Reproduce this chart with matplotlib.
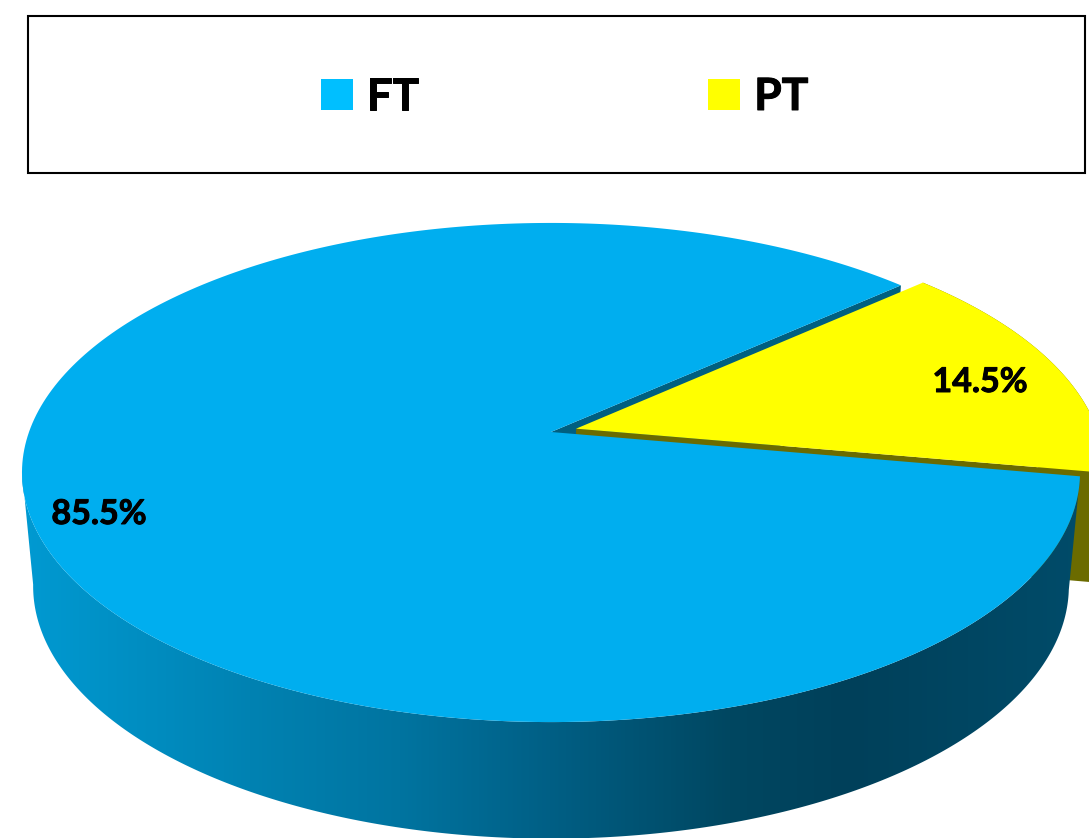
import numpy as np
import matplotlib
matplotlib.use("Agg")
import matplotlib.pyplot as plt
import matplotlib.patheffects as pe
from matplotlib.colors import LinearSegmentedColormap
from matplotlib.patches import Patch, Polygon, Rectangle

labels = ["FT", "PT"]
shares = [85.5, 14.5]
share_text = ["85.5%", "14.5%"]

plt.rcParams["font.family"] = ["Lato", "DejaVu Sans"]

# pie geometry, in image pixels
start_angle = 42.0
explode = 0.05
persp = 0.1623
top_disc = (551, 432, 522, 243)
bottom_disc = (551, 545, 511, 246)
pt_bottom_disc = (551, 541, 511, 246)

# side wall shading, left to right
wall_x = [20, 250, 400, 550, 730, 850, 1089]
wall_colors = ["#009AD2", "#0082B2", "#0074A0", "#005F85", "#004761", "#00405A", "#004C6A"]


def project(theta, r, disc, shift=0.0, shift_angle=0.0):
    # unit circle seen in perspective, far side shrinks
    cx, cy, a, b = disc
    t = np.radians(theta)
    x = r * np.cos(t) + shift * np.cos(np.radians(shift_angle))
    y = r * np.sin(t) + shift * np.sin(np.radians(shift_angle))
    w = 1 + persp * y
    return np.column_stack([cx + a * x / w, cy - b * y / w])


def arc(t0, t1, disc, shift=0.0, shift_angle=0.0):
    return project(np.linspace(t0, t1, 300), 1.0, disc, shift, shift_angle)


def apex(disc, shift=0.0, shift_angle=0.0):
    return project(np.array([0.0]), 0.0, disc, shift, shift_angle)


ft_sweep = shares[0] / sum(shares) * 360
pt_sweep = shares[1] / sum(shares) * 360
ft_start = start_angle
ft_end = ft_start + ft_sweep
pt_end = ft_end + pt_sweep
pt_mid = ft_end + pt_sweep / 2

fig = plt.figure(figsize=(10.89, 8.38), dpi=100)
ax = fig.add_axes([0, 0, 1, 1])
ax.set_xlim(0, 1089)
ax.set_ylim(838, 0)
ax.axis("off")

# thicken the bold a little, Lato is lighter than the original face
thick = [pe.withStroke(linewidth=0.7, foreground="black")]

# legend box
ax.add_patch(Rectangle((28, 16), 1057, 157, fc="white", ec="black", lw=1.5))
handles = [Patch(fc="#00BFFF", ec="none"), Patch(fc="#FFFF00", ec="none")]
leg = ax.legend(handles, labels, loc="center left", bbox_to_anchor=(321, 97),
                bbox_transform=ax.transData, frameon=False, ncols=2, borderpad=0,
                borderaxespad=0, handlelength=0.72, handleheight=0.72, handletextpad=0.31,
                columnspacing=6.52, prop={"size": 32, "weight": "bold"})
for t in leg.get_texts():
    t.set_path_effects(thick)

# cut wall of FT, shows as thin strip along the upper edge
ft_cut = np.vstack([apex(top_disc), arc(ft_start, ft_start, top_disc)[:1],
                    arc(ft_start, ft_start, bottom_disc)[:1], apex(bottom_disc)])
ax.add_patch(Polygon(ft_cut, fc="#005F80", ec="none"))

# PT side walls
pt_cut = np.vstack([apex(top_disc, explode, pt_mid), arc(ft_end, ft_end, top_disc, explode, pt_mid)[:1],
                    arc(ft_end, ft_end, pt_bottom_disc, explode, pt_mid)[:1], apex(pt_bottom_disc, explode, pt_mid)])
ax.add_patch(Polygon(pt_cut, fc="#6B6B00", ec="none"))
pt_wall = np.vstack([arc(ft_end, pt_end, top_disc, explode, pt_mid),
                     arc(ft_end, pt_end, pt_bottom_disc, explode, pt_mid)[::-1]])
ax.add_patch(Polygon(pt_wall, fc="#6B6B00", ec="none"))

# PT top
pt_top = np.vstack([apex(top_disc, explode, pt_mid), arc(ft_end, pt_end, top_disc, explode, pt_mid)])
ax.add_patch(Polygon(pt_top, fc="#FFFF00", ec="none"))

# FT outer wall with horizontal shading, starts at the left silhouette
wall_cmap = LinearSegmentedColormap.from_list(
    "wall", [((x - wall_x[0]) / (wall_x[-1] - wall_x[0]), c) for x, c in zip(wall_x, wall_colors)])
ft_wall = np.vstack([arc(189, ft_end, top_disc), arc(189, ft_end, bottom_disc)[::-1]])
wall_patch = Polygon(ft_wall, fc="none", ec="none", transform=ax.transData)
ax.add_patch(wall_patch)
gradient = np.linspace(0, 1, 512).reshape(1, -1)
im = ax.imshow(gradient, cmap=wall_cmap, aspect="auto", extent=(wall_x[0], wall_x[-1], 838, 400), zorder=1.5)
im.set_clip_path(wall_patch)
ax.set_xlim(0, 1089)
ax.set_ylim(838, 0)

# FT top
ft_top = np.vstack([apex(top_disc), arc(ft_start, ft_end, top_disc)])
ax.add_patch(Polygon(ft_top, fc="#00AEEF", ec="none", zorder=2))

ax.text(99, 514, share_text[0], fontsize=24.5, fontweight="bold", ha="center", va="center", zorder=3, path_effects=thick)
ax.text(980, 382, share_text[1], fontsize=24.5, fontweight="bold", ha="center", va="center", zorder=3, path_effects=thick)

fig.savefig("out.png", dpi=100)
